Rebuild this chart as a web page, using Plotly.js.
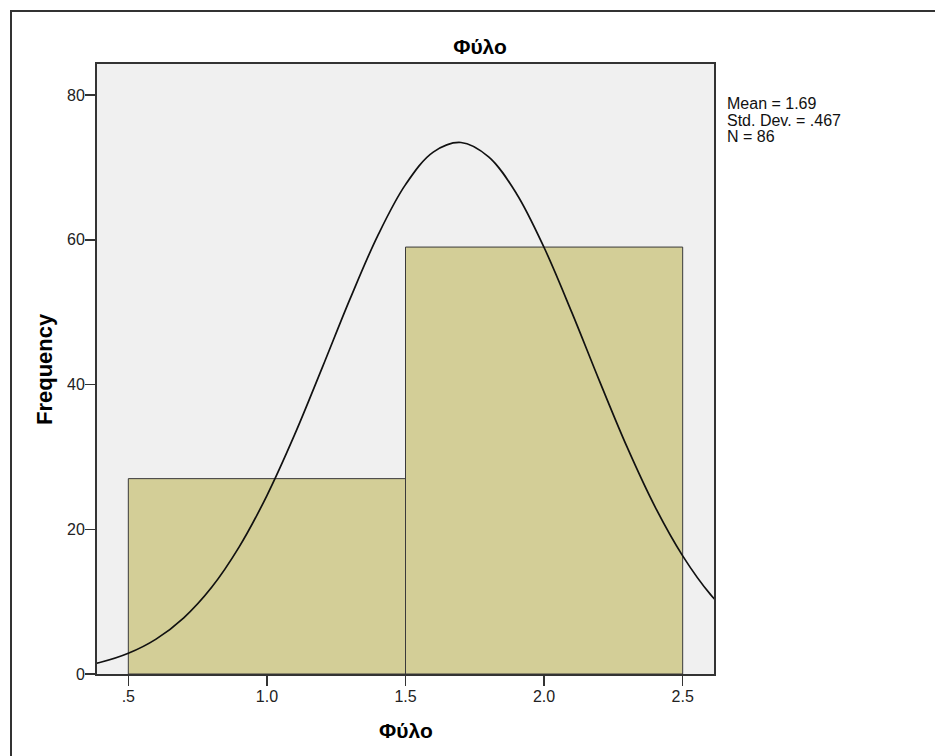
<!DOCTYPE html>
<html>
<head>
<meta charset="utf-8">
<script src="https://cdn.plot.ly/plotly-3.0.1.min.js"></script>
<style>
  html, body { margin: 0; padding: 0; background: #fff; overflow: hidden; }
  #frame { position: absolute; left: 10px; top: 10px; width: 1000px; height: 900px;
           border-left: 2px solid #333; border-top: 2px solid #333; pointer-events: none; z-index: 5; }
  #chart { position: absolute; left: 0; top: 0; width: 935px; height: 756px; }
</style>
</head>
<body>
<div id="chart"></div>
<div id="frame"></div>
<script>
// Histogram bins (centers) and counts
const binCenters = [1.0, 2.0];
const binCounts = [27, 59];

// Normal curve points
const curveX = [0.3, 0.4, 0.5, 0.6, 0.7, 0.8, 0.9, 1.0, 1.1, 1.2, 1.3, 1.4, 1.5, 1.6, 1.7, 1.8, 1.9, 2.0, 2.1, 2.2, 2.3, 2.4, 2.5, 2.6, 2.7];
const curveY = [0.88, 1.62, 2.86, 4.82, 7.77, 11.95, 17.57, 24.66, 33.07, 42.37, 51.84, 60.59, 67.63, 72.12, 73.45, 71.46, 66.41, 58.94, 49.97, 40.47, 31.31, 23.13, 16.33, 11.00, 7.09];

// Axis ticks
const xTickVals = [0.5, 1.0, 1.5, 2.0, 2.5];
const xTickText = [".5", "1.0", "1.5", "2.0", "2.5"];
const yTickVals = [0, 20, 40, 60, 80];
const yTickText = ["0", "20", "40", "60", "80"];

// Texts
const chartTitle = "Φύλο";
const xTitle = "Φύλο";
const yTitle = "Frequency";
const statsLines = ["Mean = 1.69", "Std. Dev. = .467", "N = 86"];

const font = "Liberation Sans, Arial, sans-serif";

const traces = [
  {
    type: "bar",
    x: binCenters,
    y: binCounts,
    width: 1,
    marker: { color: "#d3ce97", line: { color: "#3a3a3a", width: 1 } },
    hoverinfo: "skip"
  },
  {
    type: "scatter",
    mode: "lines",
    x: curveX,
    y: curveY,
    line: { color: "#111111", width: 1.7, shape: "spline", smoothing: 1 },
    hoverinfo: "skip"
  }
];

const statsY = [104, 121, 137];
const plotTop = 64, plotBottom = 674, plotLeft = 97, plotRight = 714;
const ph = plotBottom - plotTop, pw = plotRight - plotLeft;

const annotations = statsLines.map((t, i) => ({
  xref: "paper", yref: "paper",
  x: (725 - plotLeft) / pw, y: (plotBottom - statsY[i]) / ph,
  xanchor: "left", yanchor: "middle",
  showarrow: false, text: t,
  font: { family: font, size: 16, color: "#111" }
}));

annotations.push({
  xref: "paper", yref: "paper",
  x: 0.5, y: (plotBottom - 730) / ph,
  xanchor: "center", yanchor: "middle",
  showarrow: false, text: "<b>" + xTitle + "</b>",
  font: { family: font, size: 21, color: "#000" }
});
annotations.push({
  xref: "paper", yref: "paper",
  x: (44 - plotLeft) / pw, y: 0.5,
  xanchor: "center", yanchor: "middle",
  textangle: -90,
  showarrow: false, text: "<b>" + yTitle + "</b>",
  font: { family: font, size: 22, color: "#000" }
});

const layout = {
  width: 935,
  height: 756,
  margin: { l: plotLeft, r: 935 - plotRight, t: plotTop, b: 756 - plotBottom },
  paper_bgcolor: "#ffffff",
  plot_bgcolor: "#f0f0f0",
  showlegend: false,
  bargap: 0,
  font: { family: font, size: 16, color: "#222" },
  title: {
    text: "<b>" + chartTitle + "</b>",
    font: { family: font, size: 21, color: "#000" },
    x: 480 / 935, xref: "container", xanchor: "center",
    y: 1 - 47 / 756, yref: "container", yanchor: "middle"
  },
  xaxis: {
    range: [0.387, 2.613],
    tickmode: "array",
    tickvals: xTickVals,
    ticktext: xTickText,
    ticks: "outside",
    ticklen: 10,
    tickwidth: 1.5,
    tickcolor: "#333",
    ticklabelstandoff: -3,
    showgrid: false,
    zeroline: false,
    showline: true,
    linecolor: "#333",
    linewidth: 2,
    mirror: true,
    tickfont: { family: font, size: 16, color: "#222" }
  },
  yaxis: {
    range: [0, 84.3],
    tickmode: "array",
    tickvals: yTickVals,
    ticktext: yTickText,
    ticks: "outside",
    ticklen: 10,
    tickwidth: 1.5,
    tickcolor: "#333",
    ticklabelstandoff: -3,
    showgrid: false,
    zeroline: false,
    showline: true,
    linecolor: "#333",
    linewidth: 2,
    mirror: true,
    tickfont: { family: font, size: 16, color: "#222" }
  },
  annotations: annotations
};

Plotly.newPlot("chart", traces, layout, { displayModeBar: false, staticPlot: true });
</script>
</body>
</html>
